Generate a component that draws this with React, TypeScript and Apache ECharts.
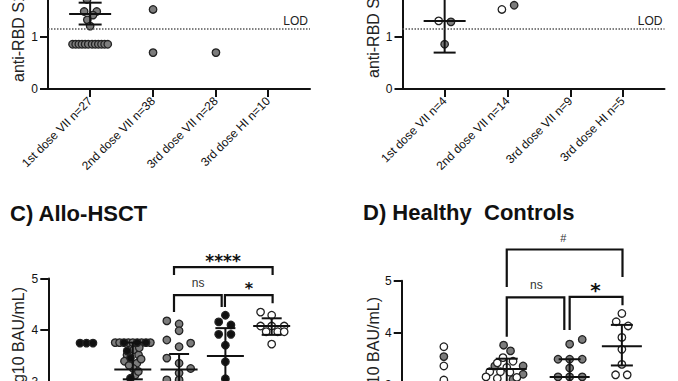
import React, { useEffect, useRef } from "react";
import * as echarts from "echarts";

const FONT = '"Liberation Sans", Arial, sans-serif';

// category slots (panel A, B, D share the same uneven spacing; C has five groups)
const SLOTS = [1, 2, 3, 3.83];
const SLOTS_C = [1, 2, 3, 4, 5];

const LABELS_A = ["1st dose VII n=27", "2nd dose VII n=38", "3rd dose VII n=28", "3rd dose HI n=10"];
const LABELS_B = ["1st dose VII n=4", "2nd dose VII n=14", "3rd dose VII n=9", "3rd dose HI n=5"];

const Y_TITLE = "anti-RBD S1 IgG (log10 BAU/mL)";
const TITLE_C = "C) Allo-HSCT";
const TITLE_D = "D) Healthy  Controls";

const LOD = 1.15;

// points: [group, jitter, value]
const A_GRAY = [
  [0, -0.05, 1.72],
  [0, -0.095, 1.49], [0, 0.105, 1.49], [0, 0.045, 1.42], [0, -0.045, 1.33], [0, 0, 1.21],
  [0, -0.28, 0.86], [0, -0.23, 0.86], [0, -0.18, 0.86], [0, -0.13, 0.86], [0, -0.08, 0.86], [0, -0.03, 0.86],
  [0, 0.03, 0.86], [0, 0.08, 0.86], [0, 0.13, 0.86], [0, 0.18, 0.86], [0, 0.23, 0.86], [0, 0.28, 0.86],
  [1, 0, 1.53], [1, 0, 0.7],
  [2, 0, 0.7],
];
// error bars: [group, mean, low, high]
const A_ERR = [[0, 1.44, 1.24, 1.66]];

const B_GRAY = [[0, 0.1, 1.29], [0, 0, 0.86], [1, 0.105, 1.61]];
const B_OPEN = [[0, -0.095, 1.31], [1, -0.09, 1.53]];
const B_ERR = [[0, 1.31, 0.7, 1.92]];

const C_BLACK = [
  [0, -0.14, 3.75], [0, 0, 3.75], [0, 0.14, 3.75],
  [1, -0.19, 3.76], [1, 0.095, 3.76], [1, 0.285, 3.76],
  [1, -0.05, 3.46], [1, -0.12, 3.6], [1, -0.05, 3.07],
  [3, 0, 4.29], [3, -0.145, 4.16], [3, 0.12, 4.1], [3, -0.145, 3.92], [3, 0.12, 3.92],
  [3, 0, 3.71], [3, 0, 3.39], [3, 0, 3.06],
];
const C_GRAY = [
  [1, -0.38, 3.76], [1, -0.285, 3.76], [1, -0.095, 3.76], [1, 0, 3.76], [1, 0.19, 3.76], [1, 0.38, 3.76],
  [1, -0.125, 3.52], [1, 0.02, 3.62], [1, 0.125, 3.52], [1, 0.09, 3.36], [1, 0.01, 3.26],
  [1, 0.05, 3.13], [1, -0.18, 3.4], [1, 0.18, 3.44], [1, 0.14, 3.66], [1, -0.08, 3.32], [1, 0.12, 3.2],
  [2, -0.265, 4.18], [2, 0, 4.12], [2, 0, 3.99], [2, -0.265, 3.81], [2, 0, 3.68], [2, 0.25, 3.75],
  [2, -0.265, 3.46], [2, 0, 3.36], [2, 0.25, 3.26], [2, 0, 3.17], [2, -0.265, 3.04], [2, 0, 3.04],
];
const C_OPEN = [
  [4, -0.24, 4.35], [4, 0, 4.29], [4, -0.24, 4.08], [4, 0, 4.08], [4, 0.27, 4.08],
  [4, -0.12, 3.97], [4, 0.13, 3.97], [4, 0.27, 3.97], [4, 0, 3.73],
];
const C_ERR = [
  [1, 3.24, 3.05, 3.76],
  [2, 3.24, 2.95, 3.54],
  [3, 3.5, 2.96, 4.04],
  [4, 4.08, 3.91, 4.23],
];
// brackets: [x1, x2, barY, leftLegEnd, rightLegEnd]
const C_BRACKETS = [
  [2.89, 5.02, 5.22, 5.07, 5.07],
  [2.89, 3.92, 4.68, 4.35, 4.45],
  [3.99, 5.02, 4.68, 4.45, 4.52],
];
const C_MARK_TEXT = ["****", "ns", "*"];
const C_MARK_POS = [[3.95, 5.42], [3.41, 4.91], [4.51, 4.87]];

const D_GRAY = [
  [0, 0, 3.54],
  [1, -0.05, 3.76], [1, 0.06, 3.65], [1, 0.26, 3.36], [1, 0.26, 3.2], [1, -0.19, 3.36], [1, 0.1, 3.1],
  [2, 0, 3.78], [2, 0.2, 3.87], [2, -0.185, 3.49], [2, 0, 3.49], [2, 0.2, 3.49], [2, 0, 3.32],
  [2, -0.185, 3.15], [2, 0, 3.15], [2, 0.2, 3.15],
];
const D_OPEN = [
  [0, 0, 3.73], [0, 0, 3.36], [0, 0, 3.09],
  [1, -0.06, 3.52], [1, 0.1, 3.45], [1, -0.15, 3.42], [1, 0, 3.33], [1, -0.27, 3.25], [1, -0.1, 3.25],
  [1, 0.05, 3.24], [1, -0.33, 3.15], [1, -0.15, 3.12], [1, 0.16, 3.14],
  [3, 0, 4.37], [3, -0.09, 4.21], [3, 0.1, 4.13], [3, 0, 3.91], [3, 0, 3.68], [3, 0, 3.39],
  [3, -0.1, 3.19], [3, 0.085, 3.19],
];
const D_ERR = [
  [1, 3.3, 3.05, 3.5],
  [2, 3.15, 2.8, 3.49],
  [3, 3.74, 3.37, 4.15],
];
const D_BRACKETS = [
  [2.0, 3.84, 5.6, 4.88, 5.07],
  [2.0, 2.915, 4.68, 3.92, 4.05],
  [3.0, 3.84, 4.69, 4.05, 4.53],
];
const D_MARK_TEXT = ["#", "ns", "*"];
const D_MARK_POS = [[2.9, 5.83], [2.47, 4.92], [3.41, 4.9]];

const INK = "#111111";

function pts(arr: number[][], slots: number[]) {
  return arr.map(([g, j, v]) => [slots[g] + j, v]);
}

function scatter(idx: number, data: number[][], fill: string) {
  return {
    type: "scatter",
    xAxisIndex: idx,
    yAxisIndex: idx,
    data,
    symbol: "circle",
    symbolSize: 7.5,
    silent: true,
    itemStyle: { color: fill, borderColor: "#222", borderWidth: 1.3, opacity: 1 },
    z: 2,
  };
}

function errSeries(idx: number, err: number[][], slots: number[], meanHalf: number, capHalf: number) {
  return {
    type: "custom",
    xAxisIndex: idx,
    yAxisIndex: idx,
    clip: false,
    silent: true,
    z: 3,
    data: err.map(([g, m, l, h]) => [slots[g], m, l, h]),
    encode: { x: 0, y: [1, 2, 3] },
    renderItem: (params: any, api: any) => {
      const x = api.value(0);
      const c = api.coord([x, api.value(1)]);
      const lo = api.coord([x, api.value(2)]);
      const hi = api.coord([x, api.value(3)]);
      const st = { stroke: INK, lineWidth: 2 };
      return {
        type: "group",
        children: [
          { type: "line", shape: { x1: c[0], y1: lo[1], x2: c[0], y2: hi[1] }, style: st },
          { type: "line", shape: { x1: c[0] - meanHalf, y1: c[1], x2: c[0] + meanHalf, y2: c[1] }, style: st },
          { type: "line", shape: { x1: c[0] - capHalf, y1: lo[1], x2: c[0] + capHalf, y2: lo[1] }, style: st },
          { type: "line", shape: { x1: c[0] - capHalf, y1: hi[1], x2: c[0] + capHalf, y2: hi[1] }, style: st },
        ],
      };
    },
  };
}

function bracketSeries(idx: number, br: number[][]) {
  return {
    type: "custom",
    xAxisIndex: idx,
    yAxisIndex: idx,
    clip: false,
    silent: true,
    z: 3,
    data: br,
    encode: { x: [0, 1], y: [2, 3, 4] },
    renderItem: (params: any, api: any) => {
      const x1 = api.value(0), x2 = api.value(1), y = api.value(2);
      const a = api.coord([x1, api.value(3)]);
      const b = api.coord([x1, y]);
      const c = api.coord([x2, y]);
      const d = api.coord([x2, api.value(4)]);
      return {
        type: "polyline",
        shape: { points: [a, b, c, d] },
        style: { stroke: INK, lineWidth: 2.2, fill: null },
      };
    },
  };
}

function markSeries(idx: number, pos: number[][], texts: string[]) {
  return {
    type: "custom",
    xAxisIndex: idx,
    yAxisIndex: idx,
    clip: false,
    silent: true,
    z: 4,
    data: pos,
    encode: { x: 0, y: 1 },
    renderItem: (params: any, api: any) => {
      const p = api.coord([api.value(0), api.value(1)]);
      const t = texts[params.dataIndex];
      const star = t.indexOf("*") >= 0;
      const fs = t === "****" ? 17 : t === "*" ? (idx === 3 ? 20 : 16) : t === "#" ? 11 : 12;
      return {
        type: "text",
        x: p[0],
        y: p[1] + (star ? fs * 0.22 : 0),
        style: {
          text: t,
          fontSize: fs,
          fontWeight: star ? "bold" : "normal",
          fontFamily: star ? '"DejaVu Sans", sans-serif' : FONT,
          fill: star ? INK : "#333",
          align: "center",
          verticalAlign: "middle",
        },
      };
    },
  };
}

function xAxisVisible(idx: number, labels: string[]) {
  return {
    gridIndex: idx,
    type: "value",
    min: 0.33,
    max: 4.495,
    splitLine: { show: false },
    axisLine: { show: true, onZero: false, lineStyle: { color: INK, width: 2 } },
    axisTick: { show: true, customValues: SLOTS, length: 8, lineStyle: { color: INK, width: 2 } },
    axisLabel: {
      show: true,
      customValues: SLOTS,
      rotate: 45,
      margin: 10,
      fontSize: 12,
      color: "#111",
      fontFamily: FONT,
      formatter: (v: number) => {
        const i = SLOTS.findIndex((s) => Math.abs(s - v) < 1e-6);
        return i >= 0 ? labels[i] : "";
      },
    },
  };
}

function yAxis(idx: number, min: number, max: number) {
  return {
    gridIndex: idx,
    type: "value",
    min,
    max,
    interval: 1,
    splitLine: { show: false },
    axisLine: { show: true, onZero: false, lineStyle: { color: INK, width: 2 } },
    axisTick: { show: true, length: 8, lineStyle: { color: INK, width: 2 } },
    axisLabel: { margin: 10, fontSize: 12, color: "#111", fontFamily: FONT },
  };
}

function lodSeries(idx: number) {
  return {
    type: "scatter",
    xAxisIndex: idx,
    yAxisIndex: idx,
    data: [],
    silent: true,
    markLine: {
      silent: true,
      symbol: ["none", "none"],
      lineStyle: { type: "dotted", color: "#555", width: 1.5 },
      label: { formatter: "LOD", position: "insideEndTop", color: "#222", fontSize: 12, fontFamily: FONT, distance: 2 },
      data: [{ yAxis: LOD }],
    },
  };
}

export default function App() {
  const ref = useRef<HTMLDivElement>(null);
  useEffect(() => {
    if (!ref.current) return;
    const chart = echarts.init(ref.current, undefined, { renderer: "svg" });
    const GRAY = "#7c7c7c";
    const OPEN = "#ffffff";
    const yText = (x: number, y: number, align: string) => ({
      type: "text",
      x,
      y,
      rotation: Math.PI / 2,
      silent: true,
      style: { text: Y_TITLE, fontSize: 16, fontFamily: FONT, fill: "#222", align, verticalAlign: "middle" },
    });
    chart.setOption({
      animation: false,
      backgroundColor: "#ffffff",
      textStyle: { fontFamily: FONT },
      grid: [
        { left: 48, top: -15, width: 262, height: 104, outerBoundsMode: "none" },
        { left: 402.5, top: -15, width: 262, height: 104, outerBoundsMode: "none" },
        { left: 48.3, top: 278.5, width: 262, height: 155.1, outerBoundsMode: "none" },
        { left: 401.7, top: 280.7, width: 262, height: 156, outerBoundsMode: "none" },
      ],
      xAxis: [
        xAxisVisible(0, LABELS_A),
        xAxisVisible(1, LABELS_B),
        { gridIndex: 2, type: "value", min: 0.175, max: 5.834, show: false },
        { gridIndex: 3, type: "value", min: 0.33, max: 4.495, show: false },
      ],
      yAxis: [yAxis(0, 0, 2), yAxis(1, 0, 2), yAxis(2, 2, 5), yAxis(3, 2, 5)],
      graphic: [
        yText(18, 82, "left"),
        yText(373, 78, "left"),
        yText(18, 287, "right"),
        yText(373, 297, "right"),
        {
          type: "text", x: 10, y: 213.5, silent: true,
          style: { text: TITLE_C, fontSize: 22, fontWeight: "bold", fontFamily: FONT, fill: "#111", align: "left", verticalAlign: "middle" },
        },
        {
          type: "text", x: 363, y: 212.7, silent: true,
          style: { text: TITLE_D, fontSize: 22, fontWeight: "bold", fontFamily: FONT, fill: "#111", align: "left", verticalAlign: "middle" },
        },
      ],
      series: [
        lodSeries(0),
        lodSeries(1),
        scatter(0, pts(A_GRAY, SLOTS), GRAY),
        errSeries(0, A_ERR, SLOTS, 21, 11.5),
        scatter(1, pts(B_GRAY, SLOTS), GRAY),
        scatter(1, pts(B_OPEN, SLOTS), OPEN),
        errSeries(1, B_ERR, SLOTS, 21, 11),
        scatter(2, pts(C_GRAY, SLOTS_C), GRAY),
        scatter(2, pts(C_BLACK, SLOTS_C), INK),
        scatter(2, pts(C_OPEN, SLOTS_C), OPEN),
        errSeries(2, C_ERR, SLOTS_C, 18.5, 10),
        bracketSeries(2, C_BRACKETS),
        markSeries(2, C_MARK_POS, C_MARK_TEXT),
        scatter(3, pts(D_GRAY, SLOTS), GRAY),
        scatter(3, pts(D_OPEN, SLOTS), OPEN),
        errSeries(3, D_ERR, SLOTS, 20, 11),
        bracketSeries(3, D_BRACKETS),
        markSeries(3, D_MARK_POS, D_MARK_TEXT),
      ],
    });
    return () => chart.dispose();
  }, []);
  return (
    <div
      ref={ref}
      style={{ position: "absolute", left: 0, top: 0, width: 678, height: 381, background: "#fff" }}
    />
  );
}
